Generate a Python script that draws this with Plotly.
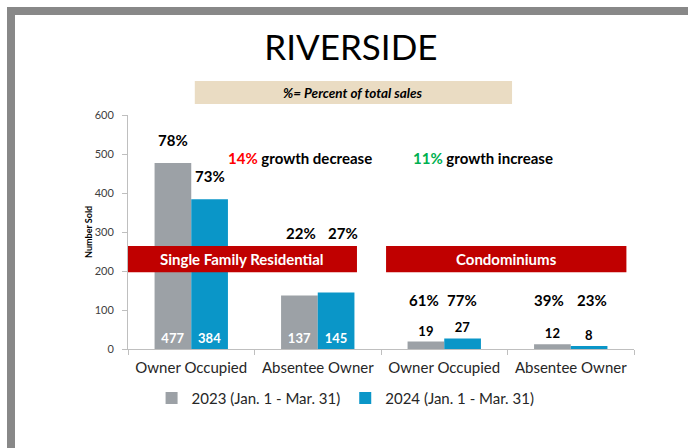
import plotly.graph_objects as go

categories = ["SFR-OO", "SFR-AO", "CONDO-OO", "CONDO-AO"]
category_labels = ["Owner Occupied", "Absentee Owner", "Owner Occupied", "Absentee Owner"]
series_names = ["2023 (Jan. 1 - Mar. 31)", "2024 (Jan. 1 - Mar. 31)"]
sold_2023 = [477, 137, 19, 12]
sold_2024 = [384, 145, 27, 8]
pct_2023 = ["78%", "22%", "61%", "39%"]
pct_2024 = ["73%", "27%", "77%", "23%"]
y_ticks = [0, 100, 200, 300, 400, 500, 600]

GRAY = "#9ca1a6"
BLUE = "#0a96c8"
RED = "#c00000"
FONT = "Lato"

text_pos = ["inside", "inside", "outside", "outside"]

fig = go.Figure()
for name, vals, col in [(series_names[0], sold_2023, GRAY), (series_names[1], sold_2024, BLUE)]:
    fig.add_trace(go.Bar(
        x=categories, y=vals, name=name, marker=dict(color=col, line=dict(width=0)),
        text=[str(v) for v in vals], textposition=text_pos, insidetextanchor="start",
        insidetextfont=dict(family=FONT, size=13, color="white", weight="bold"),
        outsidetextfont=dict(family=FONT, size=13, color="black", weight="bold"),
        textangle=0, cliponaxis=False, constraintext="none",
    ))

annotations = []
# percent labels
pct_y = [None, 297, 126, 126]
x_offsets = [(-0.145, 0.15), (-0.13, 0.2), (-0.16, 0.14), (-0.17, 0.17)]
for i in range(4):
    for j, (plist, vals) in enumerate([(pct_2023, sold_2023), (pct_2024, sold_2024)]):
        if i == 0:
            y, ya, ys = vals[i], "bottom", 12
        else:
            y, ya, ys = pct_y[i], "middle", 0
        annotations.append(dict(x=i + x_offsets[i][j], y=y, xref="x", yref="y", text=plist[i],
                                showarrow=False, yanchor=ya, yshift=ys,
                                font=dict(family=FONT, size=15, color="black", weight="bold")))

annotations += [
    dict(x=0.86, y=490, xref="x", yref="y", showarrow=False,
         text="<span style='color:#ff0000'>14%</span> growth decrease",
         font=dict(family=FONT, size=15, color="black", weight="bold")),
    dict(x=2.31, y=490, xref="x", yref="y", showarrow=False,
         text="<span style='color:#00b050'>11%</span> growth increase",
         font=dict(family=FONT, size=15, color="black", weight="bold")),
    dict(x=(-0.5 + 1.31) / 2, y=230.5, xref="x", yref="y", showarrow=False,
         text="Single Family Residential",
         font=dict(family=FONT, size=15, color="white", weight="bold")),
    dict(x=(1.54 + 3.44) / 2, y=230.5, xref="x", yref="y", showarrow=False,
         text="Condominiums",
         font=dict(family=FONT, size=15, color="white", weight="bold")),
    dict(x=(0.132 + 0.759) / 2, y=(1.145 + 1.047) / 2, xref="paper", yref="paper", showarrow=False,
         text="<i>%= Percent of total sales</i>", yanchor="middle",
         font=dict(family=FONT, size=13.5, color="black", weight="bold")),
    dict(x=-0.094, y=0.5, xref="paper", yref="paper", showarrow=False, textangle=-90,
         text="Number Sold", font=dict(family=FONT, size=9, color="black", weight="bold")),
]

shapes = [
    dict(type="rect", xref="x", yref="y", x0=-0.5, x1=1.31, y0=197, y1=264,
         fillcolor=RED, line=dict(width=0), layer="above"),
    dict(type="rect", xref="x", yref="y", x0=1.54, x1=3.44, y0=197, y1=264,
         fillcolor=RED, line=dict(width=0), layer="above"),
    dict(type="rect", xref="paper", yref="paper", x0=0.132, x1=0.759, y0=1.047, y1=1.145,
         fillcolor="#eadcc3", line=dict(width=0), layer="below"),
    # gray frame
    dict(type="rect", xref="paper", yref="paper", x0=(7 - 128) / 506, x1=(15 - 128) / 506,
         y0=-0.45, y1=(349 - 7) / 234, fillcolor="#888888", line=dict(width=0)),
    dict(type="rect", xref="paper", yref="paper", x0=(7 - 128) / 506, x1=1.12,
         y0=(349 - 15) / 234, y1=(349 - 7) / 234, fillcolor="#888888", line=dict(width=0)),
]

fig.update_layout(
    width=688, height=448,
    margin=dict(l=128, r=54, t=115, b=99),
    paper_bgcolor="white", plot_bgcolor="white",
    barmode="group", bargap=0.42, bargroupgap=0,
    title=dict(text="RIVERSIDE", x=0.51, xref="container", xanchor="center",
               y=1 - 48 / 448, yref="container", yanchor="middle",
               font=dict(family=FONT, size=35, color="black")),
    font=dict(family=FONT),
    showlegend=True,
    legend=dict(orientation="h", x=0.43, xanchor="center", y=-0.21, yanchor="middle",
                font=dict(family=FONT, size=15, color="#262626"), itemwidth=30,
                traceorder="normal", bgcolor="rgba(0,0,0,0)", tracegroupgap=0),
    xaxis=dict(type="category", tickmode="array", tickvals=categories, ticktext=category_labels,
               tickson="boundaries", ticks="outside", ticklen=5, tickcolor="#bfbfbf",
               showline=True, linecolor="#bfbfbf", linewidth=1, showgrid=False,
               ticklabelstandoff=5,
               tickfont=dict(family=FONT, size=15, color="#262626"), range=[-0.5, 3.5]),
    yaxis=dict(range=[0, 600], tickvals=y_ticks, ticks="outside", ticklen=5, tickcolor="#bfbfbf",
               showline=True, linecolor="#bfbfbf", linewidth=1, showgrid=False, zeroline=False,
               ticklabelstandoff=6,
               tickfont=dict(family=FONT, size=11, color="#404040")),
    annotations=annotations, shapes=shapes,
)

fig.write_html("out.html", config={"displayModeBar": False},
               post_script="document.body.style.margin='0';document.body.style.padding='0';")
